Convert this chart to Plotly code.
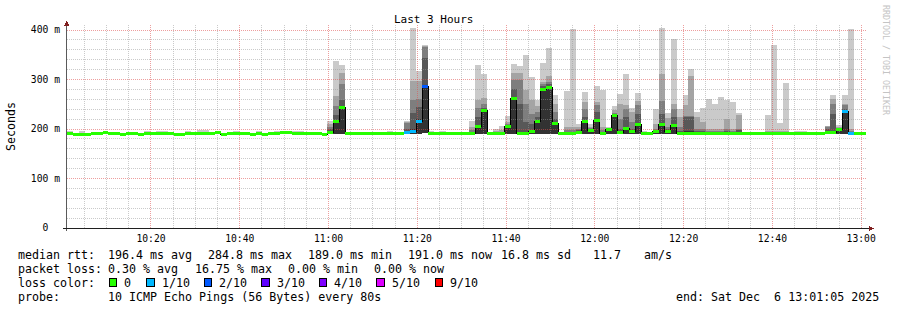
import plotly.graph_objects as go
from datetime import datetime, timedelta

# ---------------- data ----------------
END_TIME = datetime(2025, 12, 6, 13, 1, 5)
STEP_SECONDS = 80
N_STEPS = 135

median = [
    190, 188, 188, 188, 190, 190, 193, 190, 190, 188,
    190, 190, 188, 190, 190, 190, 190, 190, 188, 188,
    190, 190, 190, 190, 190, 193, 188, 190, 190, 190,
    190, 188, 190, 188, 190, 190, 193, 193, 190, 190,
    190, 190, 190, 189, 193, 215, 243, 191, 191, 191,
    191, 191, 191, 191, 191, 191, 191, 192, 194, 215,
    285, 191, 191, 191, 191, 191, 191, 191, 191, 205,
    237, 191, 191, 191, 205, 261, 191, 191, 195, 215,
    280, 284, 212, 191, 191, 191, 193, 215, 196, 218,
    191, 198, 227, 193, 201, 195, 210, 191, 191, 195,
    210, 195, 208, 191, 191, 191, 191, 191, 191, 191,
    191, 191, 191, 191, 191, 191, 191, 191, 191, 191,
    191, 191, 191, 191, 191, 191, 191, 191, 193, 192,
    199, 235, 191, 191, 191,
]

loss = [
    0, 0, 0, 0, 0, 0, 0, 0, 0, 0,
    0, 0, 0, 0, 0, 0, 0, 0, 0, 0,
    0, 0, 0, 0, 0, 0, 0, 0, 0, 0,
    0, 0, 0, 0, 0, 0, 0, 0, 0, 0,
    0, 0, 0, 0, 0, 0, 0, 0, 0, 0,
    0, 0, 0, 0, 0, 0, 0, 1, 1, 1,
    2, 0, 0, 0, 0, 0, 0, 0, 0, 0,
    0, 0, 0, 0, 0, 0, 0, 0, 0, 0,
    0, 0, 0, 0, 0, 0, 0, 0, 0, 0,
    0, 0, 0, 0, 0, 0, 0, 0, 0, 0,
    0, 0, 0, 0, 0, 0, 0, 0, 0, 0,
    0, 0, 0, 0, 0, 0, 0, 0, 0, 0,
    0, 0, 0, 0, 0, 0, 0, 0, 0, 0,
    0, 1, 1, 0, 0,
]

ping_min = [
    188, 187, 187, 187, 188, 188, 189, 188, 188, 187,
    188, 188, 187, 188, 188, 188, 188, 188, 187, 187,
    188, 188, 188, 188, 188, 189, 187, 188, 188, 188,
    188, 187, 188, 187, 188, 188, 189, 189, 188, 188,
    188, 188, 188, 188, 189, 190, 190, 189, 189, 189,
    189, 189, 189, 189, 189, 189, 189, 189, 189, 190,
    192, 189, 189, 189, 189, 189, 189, 189, 189, 189,
    190, 189, 189, 189, 190, 190, 189, 189, 189, 190,
    190, 190, 190, 189, 189, 189, 189, 190, 190, 190,
    189, 190, 190, 189, 189, 189, 190, 189, 189, 189,
    190, 189, 190, 189, 189, 189, 189, 189, 189, 189,
    189, 189, 189, 189, 189, 189, 189, 189, 189, 189,
    189, 189, 189, 189, 189, 189, 189, 189, 189, 189,
    190, 190, 189, 189, 189,
]

ping_p6 = [
    191, 189, 189, 189, 191, 191, 194, 191, 191, 189,
    191, 191, 189, 191, 191, 191, 191, 191, 189, 189,
    191, 191, 191, 191, 191, 194, 189, 191, 191, 191,
    191, 189, 191, 189, 191, 191, 194, 194, 191, 191,
    191, 191, 191, 190, 195, 217, 245, 192, 192, 192,
    192, 192, 192, 192, 192, 192, 192, 194, 200, 220,
    288, 192, 192, 192, 192, 192, 192, 192, 192, 207,
    239, 192, 192, 192, 206, 263, 193, 193, 197, 217,
    282, 286, 214, 192, 192, 192, 195, 217, 198, 220,
    192, 200, 229, 195, 203, 197, 212, 192, 192, 197,
    212, 197, 210, 193, 196, 196, 193, 193, 192, 192,
    192, 192, 192, 192, 192, 192, 192, 192, 192, 192,
    192, 192, 192, 192, 192, 192, 192, 192, 195, 194,
    200, 237, 193, 192, 192,
]

ping_p7 = [
    191, 189, 191, 189, 191, 191, 194, 191, 191, 189,
    191, 191, 189, 191, 191, 191, 191, 191, 189, 189,
    191, 191, 191, 191, 191, 194, 189, 191, 191, 191,
    191, 189, 191, 189, 191, 191, 194, 194, 191, 191,
    191, 191, 191, 190, 200, 228, 258, 192, 192, 192,
    192, 192, 192, 192, 192, 192, 192, 200, 232, 244,
    343, 192, 192, 192, 192, 192, 192, 192, 194, 225,
    242, 192, 192, 193, 208, 280, 250, 215, 210, 225,
    286, 290, 220, 192, 194, 194, 197, 225, 200, 235,
    194, 201, 230, 200, 225, 200, 230, 192, 192, 198,
    230, 200, 225, 195, 225, 225, 195, 195, 194, 194,
    194, 195, 194, 198, 192, 192, 192, 192, 192, 192,
    192, 192, 192, 192, 192, 192, 192, 192, 200, 230,
    201, 240, 194, 192, 192,
]

ping_p8 = [
    191, 189, 191, 189, 191, 191, 194, 191, 191, 189,
    191, 191, 189, 191, 191, 191, 191, 191, 189, 189,
    191, 191, 191, 191, 191, 194, 189, 191, 191, 191,
    191, 189, 191, 189, 191, 191, 194, 194, 191, 191,
    191, 191, 191, 190, 205, 246, 290, 192, 192, 192,
    192, 192, 192, 192, 192, 192, 192, 213, 259, 260,
    366, 192, 192, 192, 192, 192, 192, 192, 198, 242,
    250, 192, 193, 194, 210, 299, 300, 250, 230, 235,
    290, 295, 235, 192, 198, 198, 200, 240, 203, 249,
    198, 202, 233, 220, 240, 215, 249, 192, 192, 200,
    256, 205, 240, 205, 226, 227, 200, 200, 196, 196,
    196, 200, 196, 200, 192, 192, 192, 192, 193, 194,
    193, 194, 192, 192, 192, 192, 192, 192, 205, 250,
    203, 248, 196, 192, 192,
]

ping_p9 = [
    192, 190, 192, 190, 192, 192, 195, 192, 192, 190,
    192, 192, 190, 192, 192, 192, 192, 192, 190, 190,
    192, 192, 193, 193, 192, 195, 190, 192, 192, 192,
    192, 190, 192, 190, 192, 193, 195, 195, 193, 192,
    192, 192, 192, 191, 211, 267, 314, 193, 193, 193,
    193, 193, 193, 193, 193, 193, 193, 215, 296, 296,
    368, 193, 193, 193, 193, 193, 193, 193, 205, 259,
    262, 193, 195, 197, 215, 314, 314, 279, 259, 246,
    294, 307, 250, 193, 205, 205, 205, 254, 205, 255,
    205, 203, 238, 250, 248, 235, 256, 193, 193, 210,
    311, 222, 250, 225, 248, 308, 225, 215, 200, 200,
    200, 220, 200, 228, 193, 193, 193, 193, 195, 196,
    195, 196, 193, 193, 193, 193, 193, 193, 206, 261,
    205, 250, 200, 193, 193,
]

ping_max = [
    195, 191, 195, 191, 193, 193, 196, 193, 193, 191,
    193, 193, 191, 195, 193, 195, 195, 193, 191, 191,
    195, 193, 197, 197, 193, 196, 191, 193, 195, 193,
    193, 191, 195, 191, 193, 196, 196, 196, 196, 195,
    193, 194, 193, 192, 216, 337, 330, 194, 194, 194,
    194, 194, 193, 194, 196, 194, 194, 216, 405, 318,
    369, 196, 194, 195, 194, 194, 194, 194, 216, 329,
    312, 194, 200, 206, 227, 331, 327, 349, 306, 259,
    333, 363, 269, 193, 277, 403, 210, 274, 210, 287,
    279, 205, 246, 271, 311, 243, 272, 196, 193, 240,
    405, 232, 382, 240, 269, 321, 234, 242, 261, 250,
    265, 259, 255, 232, 194, 194, 194, 194, 228, 370,
    213, 292, 194, 195, 196, 194, 194, 194, 207, 269,
    208, 269, 403, 194, 194,
]

LOSS_LABELS = ["0", "1/10", "2/10", "3/10", "4/10", "5/10", "9/10"]
LOSS_COLORS = ["#26ff00", "#00b8ff", "#0059ff", "#5e00ff", "#7e00ff", "#dd00ff", "#ff0000"]
SMOKE_COLORS = ["#cacaca", "#a4a4a4", "#7e7e7e", "#585858", "#323232"]

X_MAJOR_LABELS = ["10:20", "10:40", "11:00", "11:20", "11:40", "12:00", "12:20", "12:40", "13:00"]
Y_MAJOR = [100, 200, 300, 400]
Y_MINOR = [20, 40, 60, 80, 120, 140, 160, 180, 220, 240, 260, 280, 320, 340, 360, 380]
Y_TICKS = [0, 100, 200, 300, 400]
Y_TICK_TEXT = ["0\u00a0\u00a0", "100 m", "200 m", "300 m", "400 m"]
Y_TOP = 410.1

# ---------------- layout geometry (pixels) ----------------
W, H = 897, 310
PL, PR, PT, PB = 67, 866, 25, 228
FONT = "DejaVu Sans Mono"


def px(xp):
    return (xp - PL) / (PR - PL)


def py(yp):
    return (PB - yp) / (PB - PT)


# ---------------- time axis ----------------
step = timedelta(seconds=STEP_SECONDS)
t_start = END_TIME - step * N_STEPS
starts = [t_start + step * i for i in range(N_STEPS)]
ends = [s + step for s in starts]
centers = [s + step / 2 for s in starts]
day = END_TIME.date()
x_major = [datetime.combine(day, datetime.strptime(s, "%H:%M").time()) for s in X_MAJOR_LABELS]
x_minor = []
t = datetime(day.year, day.month, day.day, 10, 5)
while t < END_TIME:
    if t > t_start and t not in x_major:
        x_minor.append(t)
    t += timedelta(minutes=5)

fig = go.Figure()

# smoke bands: outermost (lightest) first, inner (darkest) last
for hi, col in zip([ping_max, ping_p9, ping_p8, ping_p7, ping_p6], SMOKE_COLORS):
    fig.add_trace(go.Bar(
        x=centers, y=[h - l for h, l in zip(hi, ping_min)], base=ping_min,
        width=STEP_SECONDS * 1000, marker=dict(color=col, line=dict(width=0)),
        hoverinfo="skip", showlegend=False,
    ))


def grid_trace(xs, ys, color):
    fig.add_trace(go.Scatter(x=xs, y=ys, mode="lines", hoverinfo="skip", showlegend=False,
                             line=dict(color=color, width=1, dash="1px,1px")))


MINOR_COL = "rgba(150,150,150,0.5)"
MAJOR_COL = "rgba(222,79,79,0.55)"
gx, gy = [], []
for tt in x_minor:
    gx += [tt, tt, None]; gy += [0, Y_TOP, None]
for v in Y_MINOR:
    gx += [t_start, END_TIME, None]; gy += [v, v, None]
grid_trace(gx, gy, MINOR_COL)
gx, gy = [], []
for tt in x_major:
    gx += [tt, tt, None]; gy += [0, Y_TOP, None]
for v in Y_MAJOR:
    gx += [t_start, END_TIME, None]; gy += [v, v, None]
grid_trace(gx, gy, MAJOR_COL)

# median: black step connector, then coloured loss segments
fig.add_trace(go.Scatter(x=starts + [END_TIME], y=median + [median[-1]], mode="lines",
                         line=dict(color="#000000", width=1, shape="hv"),
                         hoverinfo="skip", showlegend=False))


def level_of(n):
    return n if n <= 5 else 6


for lvl in sorted(set(level_of(n) for n in loss)):
    xs, ys = [], []
    for i in range(N_STEPS):
        if level_of(loss[i]) == lvl:
            xs += [starts[i], ends[i], None]
            ys += [median[i], median[i], None]
    fig.add_trace(go.Scatter(x=xs, y=ys, mode="lines", hoverinfo="skip", showlegend=False,
                             line=dict(color=LOSS_COLORS[lvl], width=3)))

# ---------------- axes ----------------
fig.update_xaxes(
    type="date", range=[t_start, END_TIME], showgrid=False, zeroline=False, showline=False,
    tickvals=x_major, ticktext=X_MAJOR_LABELS, ticks="", ticklabelstandoff=3,
    tickfont=dict(family=FONT, size=9.7, color="#000000"), automargin=False, fixedrange=True,
)
fig.update_yaxes(
    range=[0, Y_TOP], showgrid=False, zeroline=False, showline=False,
    tickvals=Y_TICKS, ticktext=Y_TICK_TEXT, ticks="", ticklabelstandoff=6,
    tickfont=dict(family=FONT, size=9.7, color="#000000"), automargin=False, fixedrange=True,
)

shapes = []
# axis lines
shapes.append(dict(type="line", xref="paper", yref="paper", x0=px(66.5), x1=px(66.5), y0=py(231), y1=py(23),
                   line=dict(color="#5a5a5a", width=1)))
shapes.append(dict(type="line", xref="paper", yref="paper", x0=px(63), x1=px(869), y0=py(228.5), y1=py(228.5),
                   line=dict(color="#1f1f1f", width=1)))
# arrows
shapes.append(dict(type="path", xref="paper", yref="paper",
                   path=f"M {px(64.0)},{py(26)} L {px(69.5)},{py(26)} L {px(66.75)},{py(20.5)} Z",
                   fillcolor="#801f1f", line=dict(width=0)))
shapes.append(dict(type="path", xref="paper", yref="paper",
                   path=f"M {px(868.5)},{py(226)} L {px(868.5)},{py(231.2)} L {px(874)},{py(228.6)} Z",
                   fillcolor="#801f1f", line=dict(width=0)))

# legend colour boxes
BOX_X = [109, 146.7, 204, 261.7, 319, 376.7, 435]
for bx, col in zip(BOX_X, LOSS_COLORS):
    shapes.append(dict(type="rect", xref="paper", yref="paper", x0=px(bx), x1=px(bx + 7.5),
                       y0=py(286), y1=py(278.5), fillcolor=col, line=dict(color="#000000", width=1)))

annotations = []


def text_at(xp, yp, s, size=11.65, anchor="left", color="#000000", angle=0):
    annotations.append(dict(x=px(xp), y=py(yp), xref="paper", yref="paper", text=s, showarrow=False,
                            xanchor=anchor, yanchor="middle", borderpad=0, textangle=angle,
                            font=dict(family=FONT, size=size, color=color)))


text_at(433.5, 20, "Last 3 Hours", anchor="center", size=11)
text_at(11, 127, "Seconds", anchor="center", angle=-90)
text_at(886, 60, "RRDTOOL / TOBI OETIKER", anchor="center", size=8.3, color="#c4c4c4", angle=90)

L1, L2, L3, L4 = 255, 268.5, 282.5, 296.5
text_at(16.5, L1, "median rtt:")
text_at(107, L1, "196.4 ms avg")
text_at(207, L1, "284.8 ms max")
text_at(306.5, L1, "189.0 ms min")
text_at(406.5, L1, "191.0 ms now")
text_at(500, L1, "16.8 ms sd")
text_at(591.5, L1, "11.7")
text_at(642.5, L1, "am/s")

text_at(16.5, L2, "packet loss:")
text_at(107, L2, "0.30 % avg")
text_at(194, L2, "16.75 % max")
text_at(286.5, L2, "0.00 % min")
text_at(372.5, L2, "0.00 % now")

text_at(16.5, L3, "loss color:")
for bx, lab in zip(BOX_X, LOSS_LABELS):
    text_at(bx + 14, L3, lab)

text_at(16.5, L4, "probe:")
text_at(107, L4, "10 ICMP Echo Pings (56 Bytes) every 80s")
text_at(880.5, L4, "end: Sat Dec \u00a06 13:01:05 2025", anchor="right")

fig.update_layout(
    width=W, height=H, margin=dict(l=PL, r=W - PR, t=PT, b=H - PB, pad=0),
    paper_bgcolor="#ffffff", plot_bgcolor="#ffffff", barmode="overlay", bargap=0,
    showlegend=False, shapes=shapes, annotations=annotations,
    font=dict(family=FONT), hovermode=False,
)

fig.write_html(
    "out.html", config={"displayModeBar": False, "staticPlot": True},
    post_script="document.querySelectorAll('.scatterlayer path, .barlayer path, .shapelayer path').forEach(function(p){p.style.shapeRendering='crispEdges';});",
)
